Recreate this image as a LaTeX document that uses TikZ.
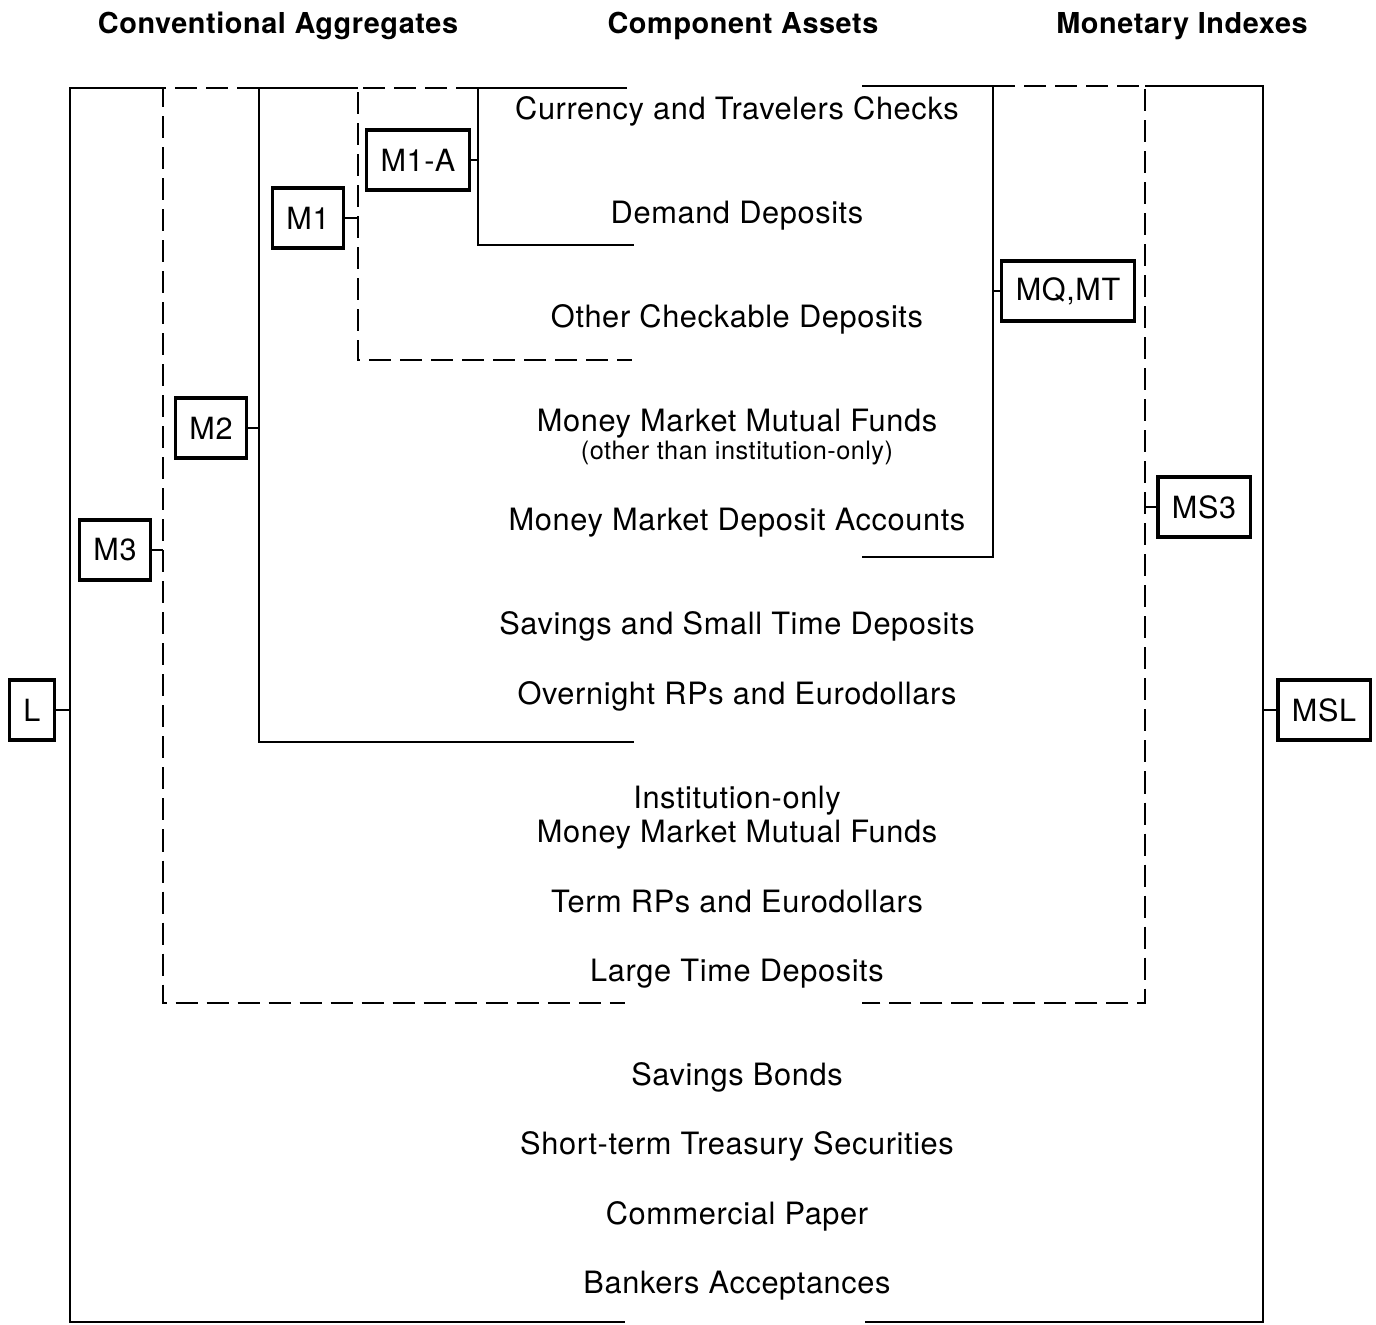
\documentclass[tikz,border=0pt]{standalone}
\usepackage{fontspec}
\setmainfont{TeX Gyre Heros}[LetterSpace=2]
\usetikzlibrary{positioning}

\begin{document}
\begin{tikzpicture}[
  x=0.01cm, y=-0.01cm,
  bracket/.style={line width=0.7pt},
  dashbracket/.style={line width=0.7pt, dash pattern=on 0.22cm off 0.09cm},
  aggbox/.style={draw, line width=0.9pt, minimum height=0.6cm, inner xsep=0.14cm,
    inner ysep=0pt, font=\fontsize{8.7}{10}\selectfont},
  asset/.style={anchor=base, inner sep=0pt, font=\fontsize{8.75}{10}\selectfont},
  note/.style={anchor=base, inner sep=0pt, font=\fontsize{7.2}{9}\selectfont},
  header/.style={anchor=base, inner sep=0pt, font=\bfseries\fontsize{8.2}{10}\selectfont}
]
\useasboundingbox (0,0) rectangle (1376,1324);

% column headings
\node[header] (hconv) at (278,34) {Conventional Aggregates};
\node[header] (hcomp) at (743,34) {Component Assets};
\node[header] (hidx)  at (1182,34) {Monetary Indexes};

% component assets
\node[asset] (cur)  at (737,119)  {Currency and Travelers Checks};
\node[asset] (dem)  at (737,223)  {Demand Deposits};
\node[asset] (ocd)  at (737,327)  {Other Checkable Deposits};
\node[asset] (mmmf) at (737,431)  {Money Market Mutual Funds};
\node[note]  (mmnote) at (737,459) {(other than institution-only)};
\node[asset] (mmda) at (737,530)  {Money Market Deposit Accounts};
\node[asset] (sstd) at (737,634)  {Savings and Small Time Deposits};
\node[asset] (orp)  at (737,704)  {Overnight RPs and Eurodollars};
\node[asset] (inst) at (737,808)  {Institution-only};
\node[asset] (immf) at (737,842)  {Money Market Mutual Funds};
\node[asset] (trp)  at (737,912)  {Term RPs and Eurodollars};
\node[asset] (ltd)  at (737,981)  {Large Time Deposits};
\node[asset] (sb)   at (737,1085) {Savings Bonds};
\node[asset] (stts) at (737,1154) {Short-term Treasury Securities};
\node[asset] (cp)   at (737,1224) {Commercial Paper};
\node[asset] (ba)   at (737,1293) {Bankers Acceptances};

% bracket verticals
\coordinate (lv)   at (70,88);
\coordinate (m3v)  at (163,88);
\coordinate (m2v)  at (259,88);
\coordinate (m1v)  at (358,88);
\coordinate (m1av) at (478,88);
\coordinate (mqv)  at (993,86);
\coordinate (ms3v) at (1145,86);
\coordinate (mslv) at (1263,86);

% conventional aggregates
\draw[bracket] (m3v) -- (lv) -- (70,1322) -- (625,1322);
\draw[dashbracket] (m2v) -- (m3v) -- (163,1003) -- (625,1003);
\draw[bracket] (m1v) -- (m2v) -- (259,742) -- (634,742);
\draw[dashbracket] (m1av) -- (m1v) -- (358,360) -- (632,360);
\draw[bracket] (627,88) -- (m1av) -- (478,245) -- (634,245);

% monetary indexes
\draw[bracket] (862,86) -- (mqv) -- (993,557) -- (862,557);
\draw[dashbracket] (mqv) -- (ms3v) -- (1145,1003) -- (862,1003);
\draw[bracket] (ms3v) -- (mslv) -- (1263,1322) -- (865,1322);

% labels
\node[aggbox] (l)   at (32,710)  {L};
\node[aggbox] (m3)  at (115,550) {M3};
\node[aggbox] (m2)  at (211,428) {M2};
\node[aggbox] (m1)  at (308,218) {M1};
\node[aggbox] (m1a) at (418,160) {M1-A};
\node[aggbox] (mq)  at (1068,291) {MQ,MT};
\node[aggbox] (ms3) at (1204,507) {MS3};
\node[aggbox] (msl) at (1324,710) {MSL};

\draw[bracket] (l.east) -- (l.east -| lv);
\draw[bracket] (m3.east) -- (m3.east -| m3v);
\draw[bracket] (m2.east) -- (m2.east -| m2v);
\draw[bracket] (m1.east) -- (m1.east -| m1v);
\draw[bracket] (m1a.east) -- (m1a.east -| m1av);
\draw[bracket] (mq.west) -- (mq.west -| mqv);
\draw[bracket] (ms3.west) -- (ms3.west -| ms3v);
\draw[bracket] (msl.west) -- (msl.west -| mslv);
\end{tikzpicture}
\end{document}
